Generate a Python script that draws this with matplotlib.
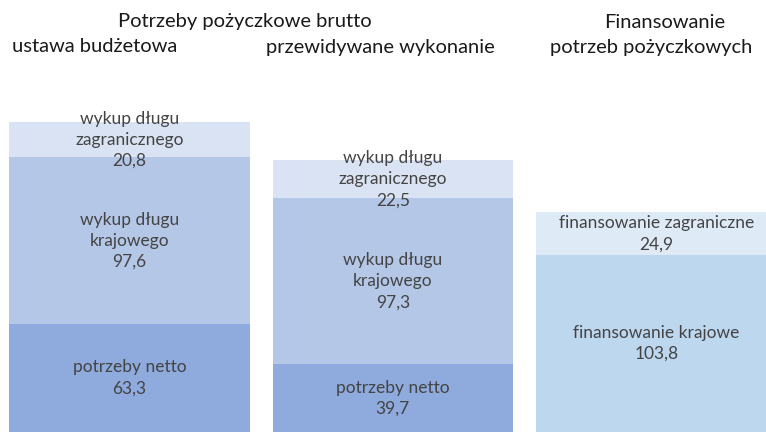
import matplotlib.pyplot as plt
import numpy as np

plt.rcParams['font.family'] = ['Lato', 'DejaVu Sans']

# potrzeby pozyczkowe brutto (mld zl)
netto = [63.3, 39.7]
kraj = [97.6, 97.3]
zagr = [20.8, 22.5]
# finansowanie
fin_kraj = 103.8
fin_zagr = 24.9

c_netto = '#8faadc'
c_kraj = '#b4c7e7'
c_zagr = '#dae3f3'
c_fkraj = '#bdd7ee'
c_fzagr = '#deebf7'
txt = '#444444'

def fmt(v):
    return ('%.1f' % v).replace('.', ',')

fig = plt.figure(figsize=(7.66, 4.32), dpi=100)
ax = fig.add_axes([0, 0, 1, 1])
w = 0.912
x = np.arange(2)

ax.bar(x, netto, width=w, color=c_netto)
ax.bar(x, kraj, width=w, bottom=netto, color=c_kraj)
b2 = np.array(netto) + np.array(kraj)
ax.bar(x, zagr, width=w, bottom=b2, color=c_zagr)

ax.bar(2, fin_kraj, width=w, color=c_fkraj)
ax.bar(2, fin_zagr, width=w, bottom=fin_kraj, color=c_fzagr)

fs = 12.5
ls = 1.4
for i in range(2):
    ax.text(i, netto[i] / 2, 'potrzeby netto\n' + fmt(netto[i]),
            ha='center', va='center', fontsize=fs, color=txt, linespacing=ls)
    ax.text(i, netto[i] + kraj[i] / 2, 'wykup długu\nkrajowego\n' + fmt(kraj[i]),
            ha='center', va='center', fontsize=fs, color=txt, linespacing=ls)
    ax.text(i, b2[i] + zagr[i] / 2, 'wykup długu\nzagranicznego\n' + fmt(zagr[i]),
            ha='center', va='center', fontsize=fs, color=txt, linespacing=ls)

ax.text(2, fin_kraj / 2, 'finansowanie krajowe\n' + fmt(fin_kraj),
        ha='center', va='center', fontsize=fs, color=txt, linespacing=ls)
ax.text(2, fin_kraj + fin_zagr / 2, 'finansowanie zagraniczne\n' + fmt(fin_zagr),
        ha='center', va='center', fontsize=fs, color=txt, linespacing=ls)

ax.set_xlim(-0.491, 2.4156)
ax.set_ylim(0, 253.2)
ax.axis('off')

hs = 14.5
hc = '#1a1a1a'
fig.text(245 / 766, 1 - 22 / 432, 'Potrzeby pożyczkowe brutto', ha='center', va='center', fontsize=hs, color=hc)
fig.text(95 / 766, 1 - 47 / 432, 'ustawa budżetowa', ha='center', va='center', fontsize=hs, color=hc)
fig.text(380 / 766, 1 - 47 / 432, 'przewidywane wykonanie', ha='center', va='center', fontsize=hs, color=hc)
fig.text(665 / 766, 1 - 22 / 432, 'Finansowanie', ha='center', va='center', fontsize=hs, color=hc)
fig.text(651 / 766, 1 - 47 / 432, 'potrzeb pożyczkowych', ha='center', va='center', fontsize=hs, color=hc)

fig.savefig('out.png', dpi=100)
